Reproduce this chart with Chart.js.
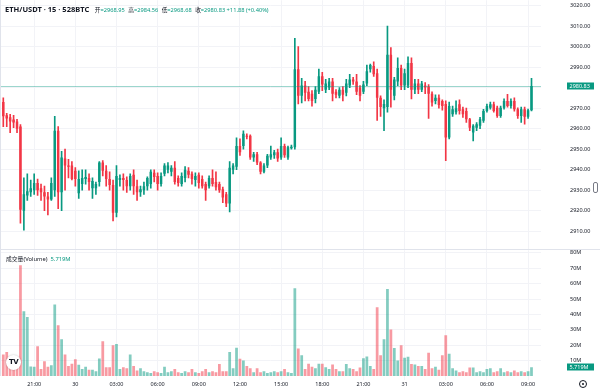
<!DOCTYPE html>
<html>
<head>
<meta charset="utf-8">
<script src="https://cdn.jsdelivr.net/npm/chart.js@4.4.1/dist/chart.umd.min.js"></script>
<style>
  html, body { margin: 0; padding: 0; background: #fff; }
  #wrap { position: relative; width: 600px; height: 389px; overflow: hidden;
          font-family: "Noto Sans", "Noto Sans CJK SC", sans-serif; color: #131722; }
  #priceCanvas { position: absolute; left: 0; top: 0; }
  #volCanvas { position: absolute; left: 0; top: 250px; }
  .sep { position: absolute; left: 0; top: 249px; width: 600px; height: 1px; background: #e0e3eb; }
  .leftline { position: absolute; left: 0; top: 0; width: 1px; height: 376px; background: #e0e3eb; }
  #header { position: absolute; left: 5px; top: 3px; font-size: 5.7px; white-space: nowrap; line-height: 12px; }
  #header .sym { font-size: 7.5px; font-weight: bold; margin-right: 4px; }
  #header .v { color: #089981; margin-right: 2px; }
  #volLegend { position: absolute; left: 6px; top: 254px; font-size: 5.8px; white-space: nowrap; }
  #volLegend .v { color: #089981; margin-left: 3px; }
  #tv { position: absolute; left: 6px; top: 355px; width: 15px; height: 15px; border-radius: 50%;
        background: #fff; box-shadow: 0 0 2px rgba(0,0,0,0.25); font: bold 7px "DejaVu Sans", sans-serif;
        text-align: center; line-height: 15px; color: #131722; letter-spacing: -0.5px; }
  #gear { position: absolute; left: 579px; top: 380px; width: 6px; height: 6px; border: 1px solid #131722; border-radius: 50%; }
  #gear::after { content: ""; position: absolute; left: 2px; top: 2px; width: 2px; height: 2px; background: #131722; border-radius: 50%; }
  #handle { position: absolute; left: 593px; top: 182px; width: 3px; height: 9px; border: 1px solid #787b86; border-radius: 2px; }
</style>
</head>
<body>
<div id="wrap">
  <canvas id="priceCanvas" width="600" height="250"></canvas>
  <canvas id="volCanvas" width="600" height="139"></canvas>
  <div class="sep"></div>
  <div class="leftline"></div>
  <div id="header">
    <span class="sym">ETH/USDT · 15 · 528BTC</span>
    <span>开</span><span class="v">=2968.95</span>
    <span>高</span><span class="v">=2984.56</span>
    <span>低</span><span class="v">=2968.68</span>
    <span>收</span><span class="v">=2980.83 +11.88 (+0.40%)</span>
  </div>
  <div id="volLegend">成交量(Volume)<span class="v">5.719M</span></div>
  <div id="tv">TV</div>
  <div id="gear"></div>
  <div id="handle"></div>
</div>
<script>
// ETH/USDT 15m candles, 29th 18:45 -> 31st 09:15
const opens = [
  2973, 2966.5, 2965.5, 2964.5, 2963.5, 2961, 2920, 2927.5, 2929, 2930,
  2933.5, 2931, 2929, 2927, 2925.5, 2930, 2959, 2929, 2945.5, 2942,
  2942, 2939.5, 2928.5, 2933, 2935.5, 2936, 2931, 2931, 2934, 2943.5,
  2939.5, 2935.5, 2932.5, 2919, 2935, 2936, 2935, 2932, 2937.5, 2932,
  2929, 2930, 2932, 2933, 2938.5, 2937, 2933, 2938, 2940, 2939,
  2941, 2936, 2933, 2936, 2939.5, 2938, 2935, 2937.5, 2935.5, 2933,
  2932, 2936, 2934, 2933, 2930.5, 2928, 2923.5, 2940, 2941.5, 2951.5,
  2951.5, 2956.5, 2956.5, 2946, 2947.5, 2943.5, 2939, 2942, 2946, 2947,
  2948.5, 2946, 2951.5, 2946, 2950.5, 2951, 2989, 2976, 2981, 2978,
  2977, 2974.5, 2978, 2985.5, 2979, 2980, 2983, 2978, 2976, 2979,
  2977.5, 2981, 2984, 2983, 2980, 2978, 2982, 2989, 2990.5, 2987,
  2975, 2970, 2970.5, 2996, 2976, 2983, 2989.5, 2981, 2981, 2992,
  2979, 2982, 2979, 2981, 2980.5, 2977, 2973.5, 2975, 2973.5, 2972,
  2955.7, 2967, 2968, 2971.9, 2969.4, 2968.6, 2964.6, 2958.1, 2960.5, 2961.4,
  2963.8, 2968.6, 2970.2, 2971.9, 2970.2, 2966.2, 2970.2, 2973.5, 2971.1, 2973.5,
  2969.4, 2966.2, 2969.4, 2965.8, 2968.95
];
const highs = [
  2975, 2967.5, 2967, 2966.5, 2964.5, 2962, 2936, 2938, 2935, 2938,
  2935.5, 2933, 2932, 2929, 2936, 2966, 2961, 2949, 2950, 2945,
  2944, 2941, 2939.5, 2940, 2940, 2938, 2936, 2934, 2944, 2944.5,
  2942, 2939, 2935, 2942, 2937.5, 2938, 2936.5, 2938, 2940, 2935,
  2932, 2934, 2936.5, 2940, 2940, 2938.5, 2938.5, 2943, 2943.5, 2942,
  2944, 2937, 2938.5, 2941.5, 2941, 2939, 2938.5, 2938.5, 2937, 2934,
  2937, 2940, 2939, 2934, 2931.5, 2929, 2944, 2943, 2955.5, 2955,
  2959, 2957.5, 2957, 2948.5, 2948.5, 2944, 2943, 2947.5, 2951.5, 2949.5,
  2950, 2955.5, 2952.5, 2951.5, 2952, 3004, 3000, 2984.5, 2983, 2980.5,
  2978.5, 2980.5, 2989, 2987.5, 2984, 2984.5, 2984.5, 2979, 2980, 2980.5,
  2984, 2986.5, 2985, 2986.5, 2981, 2983, 2991, 2991.5, 2992.5, 2989,
  2976, 2974, 3010, 2999.5, 2985, 2994.5, 2991, 2989, 2995, 2994.5,
  2984, 2984, 2983, 2982.5, 2981.5, 2978, 2976.5, 2976.5, 2974, 2973.5,
  2973, 2971, 2973.5, 2974, 2970.5, 2970, 2965, 2962, 2963, 2965.5,
  2969.4, 2972, 2973, 2973, 2971, 2971, 2974.5, 2976.7, 2974.5, 2975,
  2970.2, 2970.5, 2970.5, 2969.5, 2984.56
];
const lows = [
  2961, 2961, 2958, 2960.5, 2958, 2914, 2910.5, 2925, 2927, 2928,
  2927.5, 2925, 2920, 2918, 2925, 2927, 2921, 2920, 2930, 2936,
  2935, 2932, 2926, 2930, 2933, 2930, 2926, 2928, 2932, 2937,
  2932, 2930, 2915, 2917, 2932, 2930, 2929, 2930, 2928, 2925,
  2927, 2928, 2930, 2931, 2934, 2930, 2932, 2937, 2938.5, 2937,
  2933, 2932, 2932, 2934, 2936, 2933, 2932, 2931, 2931, 2925,
  2931, 2932, 2930, 2929, 2924, 2922, 2919.5, 2938, 2940, 2947,
  2950, 2955, 2945, 2944, 2942.5, 2938, 2938.5, 2941, 2945, 2945.5,
  2944, 2945, 2946, 2945, 2950, 2950, 2972, 2972.5, 2973.5, 2973.5,
  2971, 2972.5, 2977, 2978.5, 2977.5, 2979, 2973.5, 2975, 2975, 2973.5,
  2976, 2980, 2981.5, 2976.5, 2973.5, 2977, 2981, 2987.5, 2985.5, 2964,
  2966, 2959, 2968, 2970.5, 2974, 2981, 2979, 2979, 2980, 2974.5,
  2977, 2977, 2978, 2977, 2965, 2971, 2972, 2970, 2969, 2944.4,
  2955, 2966, 2967, 2967, 2965.5, 2963, 2959, 2954, 2959, 2960,
  2963, 2968, 2969.5, 2968, 2965.5, 2965.5, 2969.5, 2970.5, 2970, 2968.5,
  2965, 2963, 2962.2, 2965, 2968.68
];
const closes = [
  2966, 2965, 2963.5, 2963, 2960, 2920.5, 2928, 2929.5, 2931, 2933.5,
  2930, 2929, 2927, 2925.5, 2933.5, 2959, 2929, 2946, 2942, 2941.5,
  2935.5, 2935.5, 2935.5, 2936, 2936.5, 2934, 2934.5, 2933, 2943.5, 2939.5,
  2935.5, 2932.5, 2919, 2937, 2936, 2935, 2932, 2937, 2932, 2929,
  2930.5, 2932, 2936, 2939, 2936.5, 2933, 2937, 2942, 2942, 2941,
  2934, 2933.5, 2937, 2940, 2937.5, 2935.5, 2937, 2933.5, 2932, 2930,
  2936, 2933, 2931.5, 2930, 2926.5, 2923.5, 2941, 2942, 2951.5, 2948.5,
  2957.5, 2956, 2946, 2947.5, 2943.5, 2939, 2942, 2946.8, 2947.5, 2948.5,
  2945.5, 2951.5, 2947, 2951, 2951.2, 2989, 2976, 2981, 2977.5, 2974.5,
  2973.5, 2979, 2985.5, 2981.5, 2982, 2983, 2977, 2976.5, 2979, 2976.5,
  2982, 2984, 2983, 2978, 2976, 2981.5, 2988, 2991, 2986.5, 2975,
  2970.5, 2972, 2996, 2979, 2984, 2989.5, 2981, 2987, 2992, 2979,
  2982, 2979, 2982, 2980, 2977, 2972.7, 2975, 2971.5, 2971, 2955.7,
  2971, 2969.4, 2970, 2968.6, 2967, 2964.6, 2960.5, 2961.4, 2962.2, 2964.6,
  2968.6, 2971, 2971.9, 2968.6, 2966.2, 2970.2, 2973.5, 2971.1, 2973.5, 2969.4,
  2966.2, 2969.4, 2965.8, 2968.95, 2980.83
];
// volume in millions
const volumes = [
  13.9, 15.6, 9, 7, 12, 72, 42, 38.4, 6.2, 6,
  19.3, 4.5, 9.5, 6, 7, 46.5, 33, 23.8, 14, 6.5,
  8, 10.8, 7.3, 4.5, 6, 4, 4, 3, 11.4, 22.5,
  5.7, 5.7, 20, 20.8, 4.5, 5.7, 5, 14, 6.5, 3.5,
  5, 3, 2.5, 2, 3, 2.5, 2, 6, 2.5, 3,
  4.5, 2.5, 2, 3, 2.5, 4.5, 2.5, 2, 3, 4.5,
  2.5, 3, 2.5, 7.8, 3, 3, 15.6, 5, 18.4, 11.2,
  10, 6.5, 5, 2.5, 5, 2.5, 3, 2, 2.5, 3,
  2.5, 3, 4.5, 2.5, 2, 57, 17.8, 13.4, 4.5, 8,
  6, 5, 8, 8, 5.7, 4.5, 7.5, 4.5, 3, 3,
  7.8, 5, 4.5, 3, 5.5, 11.6, 12.7, 6.5, 4.5, 44.6,
  13.4, 23.8, 56.5, 30.2, 18.2, 10, 20, 11.8, 12.5, 7.8,
  7.5, 6.5, 6.5, 4.5, 15.1, 5, 6, 4, 13.4, 26.5,
  14.5, 5, 3.5, 2.5, 3, 2.5, 5.5, 5.5, 2.5, 3,
  2.5, 4.5, 5, 2.5, 3, 5, 2.5, 3, 2.5, 3.5,
  2.5, 3, 2.5, 3, 5.719
];

const timeTicks = [9, 21, 33, 45, 57, 69, 81, 93, 105, 117, 129, 141, 153];
const timeTickLabels = ['21:00', '30', '03:00', '06:00', '09:00', '12:00', '15:00',
                        '18:00', '21:00', '31', '03:00', '06:00', '09:00'];
const priceTicks = [2910, 2920, 2930, 2940, 2950, 2960, 2970, 2980, 2990, 3000, 3010, 3020];
const volumeTicks = [10, 20, 30, 40, 50, 60, 70, 80];

const UP = '#089981';
const DOWN = '#f23645';
const UP_VOL = 'rgba(8,153,129,0.5)';
const DOWN_VOL = 'rgba(242,54,69,0.5)';
const GRID = '#f2f3f7';
const TEXT = '#131722';
const AXIS_W = 59;

const isUp = closes.map((c, i) => c >= opens[i]);
const candleColors = isUp.map(u => u ? UP : DOWN);
const volColors = isUp.map(u => u ? UP_VOL : DOWN_VOL);
const lastClose = closes[closes.length - 1];
const lastVol = volumes[volumes.length - 1];

// draws the last value line and the coloured tag on the price scale
const lastValuePlugin = {
  id: 'lastValue',
  afterDraw(chart, args, opts) {
    const {ctx, chartArea} = chart;
    const y = Math.round(chart.scales.y.getPixelForValue(opts.value));
    ctx.save();
    if (opts.line) {
      ctx.strokeStyle = opts.lineColor;
      ctx.lineWidth = 1;
      ctx.beginPath();
      ctx.moveTo(chartArea.left, y + 0.5);
      ctx.lineTo(chartArea.right, y + 0.5);
      ctx.stroke();
    }
    const x0 = chartArea.right + 26;
    ctx.fillStyle = opts.color;
    ctx.fillRect(x0, y - 3.5, 27, 7);
    ctx.fillStyle = '#fff';
    ctx.font = '5.5px "Noto Sans"';
    ctx.textBaseline = 'middle';
    ctx.fillText(opts.text, x0 + 2.5, y + 0.3);
    ctx.restore();
  }
};

function xScaleOpts(showLabels) {
  return {
    type: 'linear',
    offset: false,
    min: -0.5,
    max: 156.76,
    afterBuildTicks: s => { s.ticks = timeTicks.map(v => ({value: v})); },
    ticks: {
      display: showLabels,
      autoSkip: false,
      maxRotation: 0,
      padding: 1,
      color: TEXT,
      font: {family: 'Noto Sans', size: 5.5},
      callback: v => timeTickLabels[timeTicks.indexOf(v)]
    },
    grid: {color: GRID, drawTicks: false, offset: false},
    border: {display: false}
  };
}

function yScaleOpts(ticks, fmt, min, max) {
  return {
    position: 'right',
    min: min,
    max: max,
    beginAtZero: false,
    afterBuildTicks: s => { s.ticks = ticks.map(v => ({value: v})); },
    afterFit: s => { s.width = AXIS_W; },
    ticks: {
      padding: 0,
      color: TEXT,
      font: {family: 'Noto Sans', size: 5.5, lineHeight: 0.1},
      callback: fmt
    },
    grid: {color: GRID, drawTicks: true, tickLength: 29, tickColor: 'rgba(0,0,0,0)'},
    border: {display: false}
  };
}

const priceChart = new Chart(document.getElementById('priceCanvas'), {
  type: 'bar',
  data: {
    datasets: [
      {
        label: 'body',
        data: opens.map((o, i) => ({x: i, y: [o, closes[i]]})),
        backgroundColor: candleColors,
        grouped: false,
        barPercentage: 0.72,
        categoryPercentage: 1,
        minBarLength: 1
      },
      {
        label: 'wick',
        data: lows.map((l, i) => ({x: i, y: [l, highs[i]]})),
        backgroundColor: candleColors,
        grouped: false,
        barThickness: 1
      }
    ]
  },
  options: {
    responsive: false,
    animation: false,
    events: [],
    layout: {padding: 0},
    plugins: {
      legend: {display: false},
      tooltip: {enabled: false},
      lastValue: {value: lastClose, text: lastClose.toFixed(2), color: UP, line: true, lineColor: 'rgba(8,153,129,0.4)'}
    },
    scales: {
      x: xScaleOpts(false),
      y: yScaleOpts(priceTicks, v => v.toFixed(2), 2901.8, 3021.9)
    }
  },
  plugins: [lastValuePlugin]
});

const volChart = new Chart(document.getElementById('volCanvas'), {
  type: 'bar',
  data: {
    datasets: [{
      label: 'Volume',
      data: volumes.map((v, i) => ({x: i, y: v})),
      backgroundColor: volColors,
      barPercentage: 0.8,
      categoryPercentage: 1
    }]
  },
  options: {
    responsive: false,
    animation: false,
    events: [],
    layout: {padding: 0},
    plugins: {
      legend: {display: false},
      tooltip: {enabled: false},
      lastValue: {value: lastVol, text: lastVol.toFixed(3) + 'M', color: UP, line: false}
    },
    scales: {
      x: xScaleOpts(true),
      y: yScaleOpts(volumeTicks, v => v + 'M', 0, 82)
    }
  },
  plugins: [lastValuePlugin]
});

// pin a scale so that value v1 sits at page pixel p1 and v2 at p2
function pinScale(chart, id, v1, p1, v2, p2, pageOffset) {
  const s = chart.scales[id];
  const a = (s.isHorizontal() ? s.left : s.top) + pageOffset;
  const b = (s.isHorizontal() ? s.right : s.bottom) + pageOffset;
  const k = (v2 - v1) / (p2 - p1);
  const va = v1 + (a - p1) * k;
  const vb = v1 + (b - p1) * k;
  chart.options.scales[id].min = Math.min(va, vb);
  chart.options.scales[id].max = Math.max(va, vb);
}

pinScale(priceChart, 'x', 0, 3.3, 154, 531.5, 0);
pinScale(priceChart, 'y', 3020, 5.5, 2910, 231.3, 0);
priceChart.update('none');

pinScale(volChart, 'x', 0, 3.3, 154, 531.5, 0);
pinScale(volChart, 'y', 70, 268.3, 10, 360.6, 250);
volChart.update('none');
</script>
</body>
</html>
